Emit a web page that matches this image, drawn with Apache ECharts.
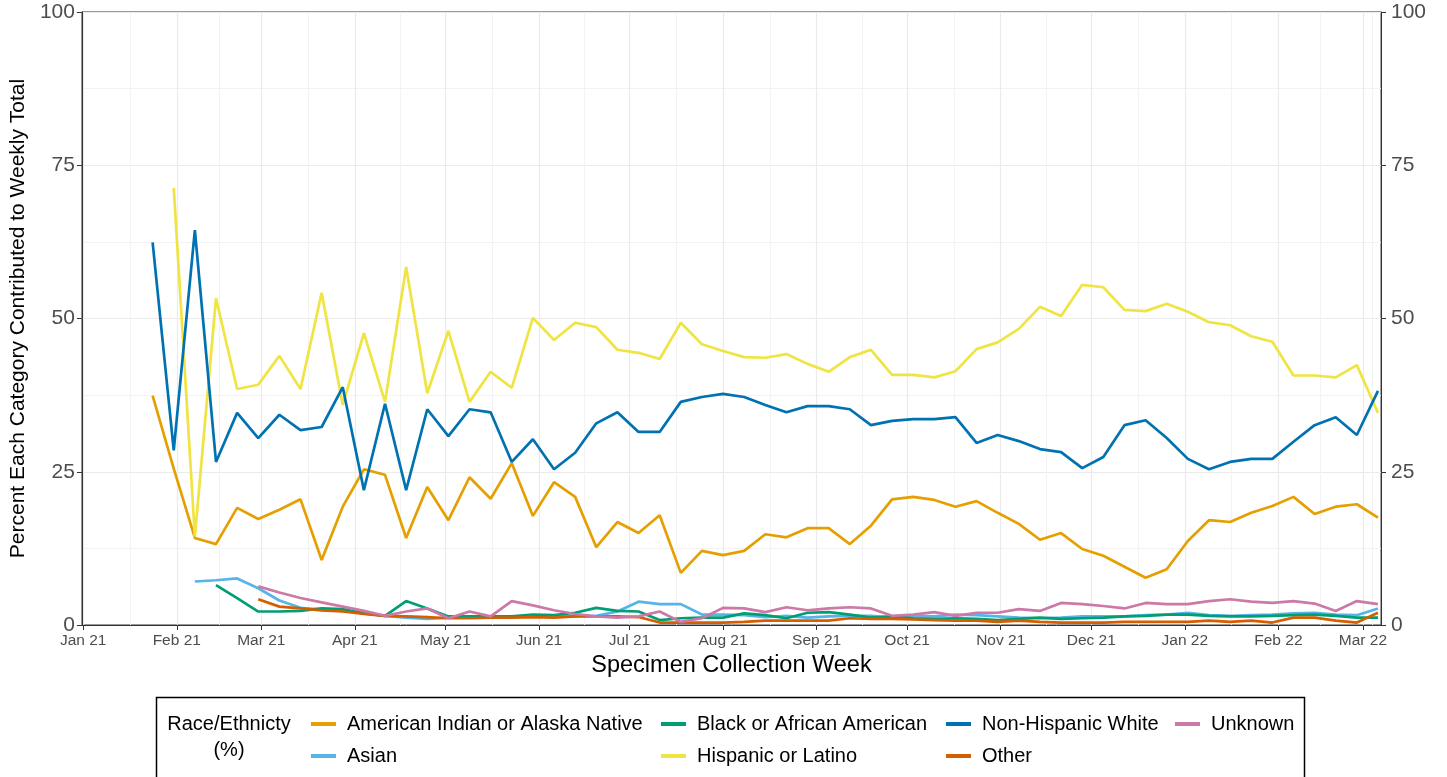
<!DOCTYPE html>
<html>
<head>
<meta charset="utf-8">
<script src="https://cdn.jsdelivr.net/npm/echarts@6/dist/echarts.min.js"></script>
<style>
  html, body { margin: 0; padding: 0; background: #fff; }
  #chart { width: 1447px; height: 777px; }
</style>
</head>
<body>
<div id="chart"></div>
<script>
// weekly specimen collection dates
const weeks = [
  '2021-01-24', '2021-01-31', '2021-02-07', '2021-02-14', '2021-02-21', '2021-02-28', '2021-03-07', '2021-03-14',
  '2021-03-21', '2021-03-28', '2021-04-04', '2021-04-11', '2021-04-18', '2021-04-25', '2021-05-02', '2021-05-09',
  '2021-05-16', '2021-05-23', '2021-05-30', '2021-06-06', '2021-06-13', '2021-06-20', '2021-06-27', '2021-07-04',
  '2021-07-11', '2021-07-18', '2021-07-25', '2021-08-01', '2021-08-08', '2021-08-15', '2021-08-22', '2021-08-29',
  '2021-09-05', '2021-09-12', '2021-09-19', '2021-09-26', '2021-10-03', '2021-10-10', '2021-10-17', '2021-10-24',
  '2021-10-31', '2021-11-07', '2021-11-14', '2021-11-21', '2021-11-28', '2021-12-05', '2021-12-12', '2021-12-19',
  '2021-12-26', '2022-01-02', '2022-01-09', '2022-01-16', '2022-01-23', '2022-01-30', '2022-02-06', '2022-02-13',
  '2022-02-20', '2022-02-27', '2022-03-06'
]

// percent per category
const aian = [
  37.4, 25.5, 14.2, 13.2, 19.1, 17.3, 18.8, 20.5, 10.6, 19.3, 25.4, 24.5, 14.2, 22.5, 17.1, 24.1,
  20.6, 26.4, 17.8, 23.3, 20.9, 12.7, 16.8, 15.0, 17.9, 8.5, 12.1, 11.4, 12.1, 14.8, 14.3, 15.8,
  15.8, 13.2, 16.2, 20.5, 20.9, 20.4, 19.3, 20.2, 18.3, 16.5, 13.9, 15.0, 12.4, 11.3, 9.5, 7.7,
  9.1, 13.7, 17.1, 16.8, 18.3, 19.4, 20.9, 18.1, 19.3, 19.7, 17.5
]
const asian = [
  null, null, 7.1, 7.3, 7.6, 6.0, 4.0, 2.8, 2.5, 2.3, 2.0, 1.5, 1.2, 1.0, 1.2, 1.2,
  1.3, 1.3, 1.4, 1.4, 1.4, 1.5, 2.2, 3.8, 3.4, 3.4, 1.7, 1.7, 1.6, 1.3, 1.5, 1.2,
  1.4, 1.5, 1.5, 1.2, 1.5, 1.4, 1.7, 1.6, 1.4, 1.2, 1.1, 1.2, 1.4, 1.4, 1.4, 1.6,
  1.7, 2.0, 1.6, 1.5, 1.6, 1.7, 1.9, 2.0, 1.7, 1.6, 2.7
]
const black = [
  null, null, null, 6.5, 4.4, 2.2, 2.2, 2.3, 2.7, 2.6, 1.9, 1.5, 3.9, 2.7, 1.4, 1.4,
  1.4, 1.4, 1.7, 1.6, 2.0, 2.8, 2.3, 2.2, 0.8, 1.1, 1.2, 1.2, 1.9, 1.6, 1.1, 2.0,
  2.1, 1.7, 1.2, 1.4, 1.1, 1.0, 1.1, 1.0, 0.8, 1.0, 1.2, 1.0, 1.1, 1.2, 1.4, 1.5,
  1.7, 1.7, 1.5, 1.4, 1.4, 1.5, 1.6, 1.7, 1.5, 1.2, 1.2
]
const hispanic = [
  null, 71.3, 14.4, 53.3, 38.5, 39.2, 43.9, 38.5, 54.2, 35.9, 47.6, 36.4, 58.4, 37.8, 48.0, 36.4,
  41.3, 38.7, 50.1, 46.5, 49.3, 48.6, 44.9, 44.4, 43.4, 49.3, 45.8, 44.7, 43.7, 43.6, 44.2, 42.6,
  41.3, 43.7, 44.9, 40.8, 40.8, 40.4, 41.4, 45.0, 46.1, 48.3, 51.9, 50.4, 55.5, 55.1, 51.4, 51.2,
  52.4, 51.1, 49.4, 48.9, 47.1, 46.2, 40.7, 40.7, 40.4, 42.4, 34.6
]
const nhWhite = [
  62.4, 28.5, 64.4, 26.6, 34.6, 30.5, 34.3, 31.8, 32.3, 38.8, 22.0, 36.1, 22.0, 35.2, 30.8, 35.2,
  34.7, 26.6, 30.3, 25.4, 28.1, 32.9, 34.7, 31.5, 31.5, 36.4, 37.2, 37.7, 37.2, 35.9, 34.7, 35.7,
  35.7, 35.2, 32.6, 33.3, 33.6, 33.6, 33.9, 29.7, 31.0, 30.0, 28.7, 28.2, 25.6, 27.4, 32.6, 33.4,
  30.5, 27.1, 25.4, 26.6, 27.1, 27.1, 29.9, 32.6, 33.9, 31.0, 38.2
]
const other = [
  null, null, null, null, null, 4.2, 3.0, 2.7, 2.4, 2.2, 1.8, 1.5, 1.4, 1.3, 1.1, 1.1,
  1.2, 1.2, 1.3, 1.2, 1.4, 1.4, 1.4, 1.3, 0.4, 0.4, 0.4, 0.4, 0.5, 0.7, 0.7, 0.7,
  0.7, 1.1, 1.0, 1.0, 0.9, 0.8, 0.7, 0.7, 0.5, 0.7, 0.5, 0.4, 0.4, 0.4, 0.5, 0.5,
  0.5, 0.5, 0.7, 0.5, 0.7, 0.4, 1.2, 1.2, 0.7, 0.4, 2.0
]
const unknown = [
  null, null, null, null, null, 6.3, 5.3, 4.4, 3.7, 3.0, 2.3, 1.5, 2.2, 2.7, 1.1, 2.2,
  1.4, 3.9, 3.2, 2.4, 1.8, 1.4, 1.2, 1.4, 2.2, 0.5, 1.1, 2.8, 2.7, 2.1, 2.9, 2.4,
  2.7, 2.9, 2.7, 1.5, 1.7, 2.1, 1.5, 2.0, 2.0, 2.6, 2.3, 3.6, 3.4, 3.1, 2.7, 3.6,
  3.4, 3.4, 3.9, 4.2, 3.8, 3.6, 3.9, 3.5, 2.3, 3.9, 3.4
]

const yTicks = [0, 25, 50, 75, 100]
const monthNames = ['Jan', 'Feb', 'Mar', 'Apr', 'May', 'Jun', 'Jul', 'Aug', 'Sep', 'Oct', 'Nov', 'Dec']

const font = 'Liberation Sans, Arial, sans-serif'
const groups = [
  { name: 'American Indian or Alaska Native', data: aian, color: '#E69F00' },
  { name: 'Asian', data: asian, color: '#56B4E9' },
  { name: 'Black or African American', data: black, color: '#009E73' },
  { name: 'Hispanic or Latino', data: hispanic, color: '#F0E442' },
  { name: 'Non-Hispanic White', data: nhWhite, color: '#0072B2' },
  { name: 'Other', data: other, color: '#D55E00' },
  { name: 'Unknown', data: unknown, color: '#CC79A7' }
]

const toTime = s => Date.parse(s + 'T00:00:00Z')

const series = groups.map(g => ({
  name: g.name,
  type: 'line',
  showSymbol: false,
  symbol: 'none',
  connectNulls: false,
  animation: false,
  color: g.color,
  lineStyle: { width: 2.7, color: g.color },
  data: weeks.map((w, i) => [toTime(w), g.data[i]])
}))

// legend columns like ggplot's 2-row legend
const legendCols = [
  { left: 306, names: ['American Indian or Alaska Native', 'Asian'] },
  { left: 656, names: ['Black or African American', 'Hispanic or Latino'] },
  { left: 941, names: ['Non-Hispanic White', 'Other'] },
  { left: 1170, names: ['Unknown'] }
]
const legends = legendCols.map(c => ({
  orient: 'vertical',
  left: c.left,
  top: 708,
  itemGap: 10,
  itemWidth: 25,
  itemHeight: 4,
  icon: 'rect',
  selectedMode: false,
  data: c.names,
  textStyle: { fontFamily: font, fontSize: 20, color: '#000', lineHeight: 22, padding: [0, 0, 0, 6] }
}))

const chart = echarts.init(document.getElementById('chart'), null, { renderer: 'canvas' })
chart.setOption({
  useUTC: true,
  animation: false,
  backgroundColor: '#fff',
  grid: {
    left: 78, right: 66, top: 12, bottom: 152,
    show: true, borderColor: '#333', borderWidth: 1, backgroundColor: 'transparent'
  },
  legend: legends,
  xAxis: {
    type: 'time',
    min: Date.UTC(2020, 11, 31, 14),
    max: Date.UTC(2022, 2, 7, 0),
    minInterval: 28 * 86400000,
    maxInterval: 31 * 86400000,
    name: 'Specimen Collection Week',
    nameLocation: 'middle',
    nameGap: 26,
    nameTextStyle: { fontFamily: font, fontSize: 23.5, color: '#000' },
    axisLine: { show: true, lineStyle: { color: '#333', width: 1 } },
    axisTick: { show: true, length: 5, lineStyle: { color: '#333' } },
    axisLabel: {
      fontFamily: font, fontSize: 15.5, color: '#4d4d4d', margin: 8,
      formatter: v => {
        const d = new Date(v)
        return monthNames[d.getUTCMonth()] + ' ' + String(d.getUTCFullYear()).slice(2)
      }
    },
    splitLine: { show: true, lineStyle: { color: '#ebebeb', width: 1.2 } },
    minorTick: { show: false, splitNumber: 2 },
    minorSplitLine: { show: true, lineStyle: { color: '#f3f3f3', width: 1 } }
  },
  yAxis: [
    {
      type: 'value', min: yTicks[0], max: yTicks[yTicks.length - 1], interval: 25,
      name: 'Percent Each Category Contributed to Weekly Total',
      nameLocation: 'middle', nameGap: 50, nameRotate: 90,
      nameTextStyle: { fontFamily: font, fontSize: 21, color: '#000' },
      axisLine: { show: true, lineStyle: { color: '#333' } },
      axisTick: { show: true, length: 5, lineStyle: { color: '#333' } },
      axisLabel: { fontFamily: font, fontSize: 21, color: '#4d4d4d', margin: 7 },
      splitLine: { show: true, lineStyle: { color: '#ebebeb', width: 1.2 } },
      minorTick: { show: false, splitNumber: 2 },
      minorSplitLine: { show: true, lineStyle: { color: '#f3f3f3', width: 1 } }
    },
    {
      type: 'value', min: yTicks[0], max: yTicks[yTicks.length - 1], interval: 25,
      position: 'right',
      axisLine: { show: true, lineStyle: { color: '#333' } },
      axisTick: { show: true, length: 5, lineStyle: { color: '#333' } },
      axisLabel: { fontFamily: font, fontSize: 21, color: '#4d4d4d', margin: 10 },
      splitLine: { show: false }
    }
  ],
  graphic: [
    {
      type: 'rect', x: 156.5, y: 697.5, silent: true,
      shape: { width: 1148, height: 100 },
      style: { fill: 'none', stroke: '#000', lineWidth: 1.5 }
    },
    {
      type: 'text', x: 229, y: 711, silent: true,
      style: { text: 'Race/Ethnicty\n(%)', font: '20px ' + font, fill: '#000', align: 'center', verticalAlign: 'top', lineHeight: 26 }
    }
  ],
  series: series
})
</script>
</body>
</html>
